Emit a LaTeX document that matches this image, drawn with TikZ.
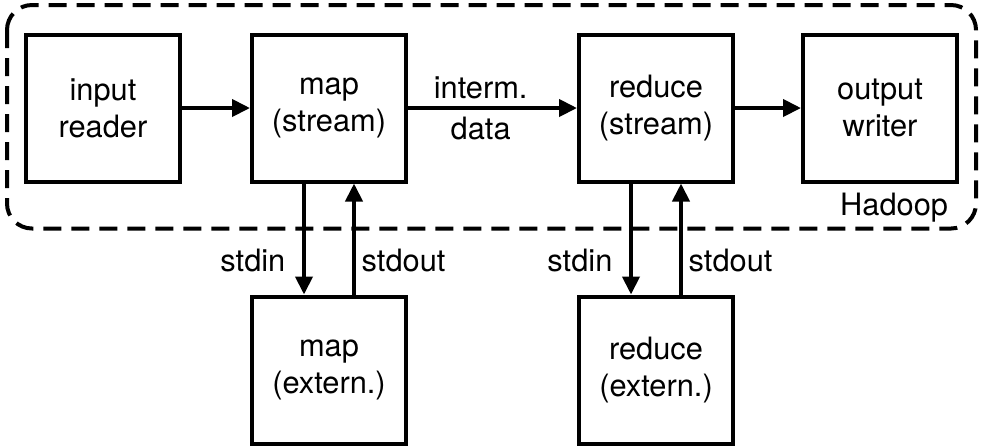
\documentclass[tikz,border=0pt]{standalone}
\usepackage{fontspec}
\setmainfont{TeX Gyre Heros}
\usetikzlibrary{arrows.meta}

\begin{document}
\begin{tikzpicture}[x=0.5pt, y=-0.5pt, >={Triangle[length=9pt,width=8.5pt]},
                    line width=2pt, font=\fontsize{15.4}{18.5}\selectfont,
                    block/.style={draw, align=center, minimum width=77pt, minimum height=73.5pt, inner sep=2pt},
                    hadoopframe/.style={draw, dashed, dash pattern=on 9pt off 5pt, rounded corners=12.5pt}]
                    \useasboundingbox (0,0) rectangle (983,447);

                    % Hadoop frame
                    \draw[hadoopframe] (7,5) rectangle (976,228.5);
                    \node[anchor=base east, inner sep=0pt] (hadoop) at (950,215) {Hadoop};

                    % Boxes inside Hadoop
                    \node[block] (reader) at (103,108) {input\\reader};
                    \node[block] (mapS) at (329,108) {map\\(stream)};
                    \node[block] (reduceS) at (656,108) {reduce\\(stream)};
                    \node[block] (writer) at (880,108) {output\\writer};

                    % External programs
                    \node[block] (mapX) at (329,370) {map\\(extern.)};
                    \node[block] (reduceX) at (656,370) {reduce\\(extern.)};

                    % Data flow
                    \draw[->] (reader) -- (mapS);
                    \draw[->] (mapS) -- node[pos=.43, above] {interm.} node[pos=.43, below] {data} (reduceS);
                    \draw[->] (reduceS) -- (writer);

                    % Streams to and from the external programs
                    \foreach \s/\x in {mapS/mapX, reduceS/reduceX}
                    {
                        \draw[->] ([xshift=-12.5pt]\s.south) -- node[pos=.69, left, xshift=-5pt] {stdin} ([xshift=-12.5pt]\x.north);
                        \draw[->] ([xshift=12.5pt]\x.north) -- node[pos=.31, right, xshift=-0.5pt] {stdout} ([xshift=12.5pt]\s.south);
                    }
                \end{tikzpicture}
\end{document}
